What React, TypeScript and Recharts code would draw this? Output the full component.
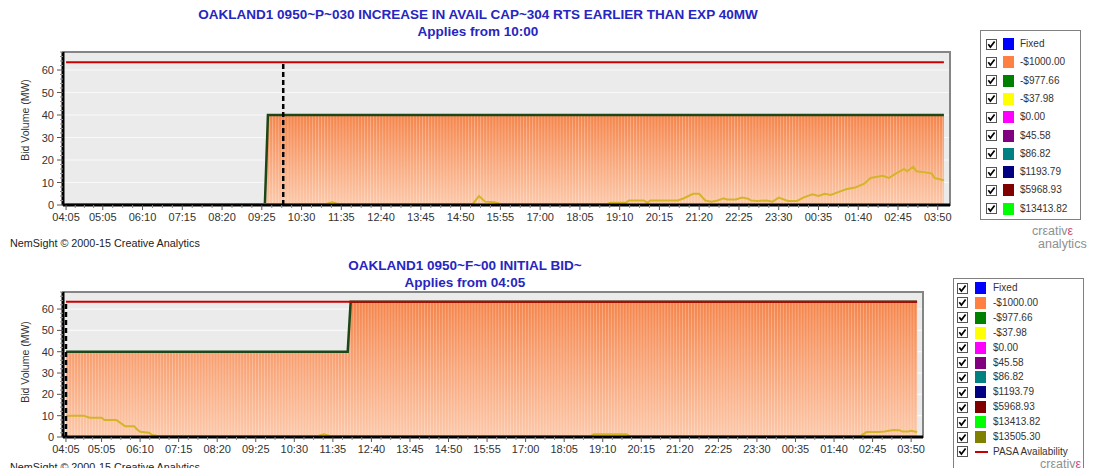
import React from 'react';
import { ComposedChart, Area, Line, XAxis, YAxis, CartesianGrid, ReferenceLine, ReferenceArea } from 'recharts';

// 5-minute trading intervals, 04:05 .. 04:00 next day
const tickLabels = ['04:05', '05:05', '06:10', '07:15', '08:20', '09:25', '10:30', '11:35', '12:40', '13:45', '14:50', '15:55', '17:00', '18:05', '19:10', '20:15', '21:20', '22:25', '23:30', '00:35', '01:40', '02:45', '03:50'];
const yTicks = [0, 10, 20, 30, 40, 50, 60];
const yMax = 68;
const dayStart = '04:05';
const dayEnd = '04:00';

// top chart
const topTitle = 'OAKLAND1 0950~P~030 INCREASE IN AVAIL CAP~304 RTS EARLIER THAN EXP 40MW';
const topSubtitle = 'Applies from 10:00';
const topAppliesFrom = '10:00';
const topBandTimes = ['04:05', '09:30', '09:35', '04:00'];
const topBand1000 = [0, 0, 40, 40];
const topBand977 = [0, 0, 0, 0];
const topPasa = 63.4;
const topYellow: [string, number][] = [
    ['04:05', 0.5], ['11:10', 0.5], ['11:20', 1.2], ['11:30', 0.5], ['15:10', 0.5], ['15:20', 4], ['15:30', 1.5],
    ['15:45', 1.2], ['15:55', 0.5], ['18:50', 0.5], ['18:55', 1], ['19:20', 1], ['19:25', 2], ['19:50', 2], ['19:55', 1],
    ['20:00', 2], ['20:45', 2], ['20:55', 3], ['21:10', 5], ['21:20', 5], ['21:30', 2], ['21:40', 1.5], ['21:50', 2],
    ['22:00', 3], ['22:05', 2.5], ['22:20', 2.5], ['22:30', 3.3], ['22:40', 2.8], ['22:45', 2], ['22:55', 1.8],
    ['23:10', 2], ['23:20', 1.5], ['23:30', 3.3], ['23:45', 1.8], ['00:00', 1.8], ['00:10', 3.3], ['00:25', 4.8],
    ['00:35', 4], ['00:45', 5], ['00:55', 4.5], ['01:05', 5.5], ['01:20', 7], ['01:35', 7.8], ['01:50', 9.5],
    ['02:00', 12], ['02:20', 13], ['02:30', 12], ['02:40', 13.7], ['02:55', 16], ['03:00', 15], ['03:10', 17],
    ['03:15', 15], ['03:30', 14.5], ['03:40', 14], ['03:45', 12], ['04:00', 11],
];

// bottom chart
const botTitle = 'OAKLAND1 0950~F~00 INITIAL BID~';
const botSubtitle = 'Applies from 04:05';
const botAppliesFrom = '04:05';
const botBandTimes = ['04:05', '12:00', '12:05', '04:00'];
const botBand1000 = [40, 40, 63.4, 63.4];
const botBand977 = [0, 0, 0, 0];
const botPasa = 63.4;
const botYellow: [string, number][] = [
    ['04:05', 10], ['04:35', 10], ['04:45', 9], ['05:05', 9], ['05:10', 8], ['05:30', 8], ['05:35', 7], ['05:45', 5],
    ['06:00', 5], ['06:05', 3.5], ['06:10', 2.5], ['06:25', 2], ['06:30', 1], ['06:40', 0.5], ['11:10', 0.5],
    ['11:20', 1.3], ['11:30', 0.5], ['18:50', 0.5], ['18:55', 1.3], ['19:50', 1.3], ['19:55', 0.5], ['02:25', 0.5],
    ['02:35', 2.3], ['02:55', 2.3], ['03:05', 2.6], ['03:20', 3.3], ['03:30', 3.2], ['03:35', 2.6], ['03:45', 2.6],
    ['03:50', 2.9], ['04:00', 2.3],
];

const legendTop: [string, string][] = [
    ['Fixed', '#0000ff'], ['-$1000.00', '#ff8040'], ['-$977.66', '#008000'], ['-$37.98', '#ffff00'],
    ['$0.00', '#ff00ff'], ['$45.58', '#800080'], ['$86.82', '#008080'], ['$1193.79', '#000080'],
    ['$5968.93', '#800000'], ['$13413.82', '#00ff00'],
];
const legendBottomExtra: [string, string][] = [['$13505.30', '#808000']];

const footer = 'NemSight \u00a9 2000-15 Creative Analytics';

const slot = (t: string) => {
    const [h, m] = t.split(':').map(Number);
    const [h0, m0] = dayStart.split(':').map(Number);
    return ((h * 60 + m - (h0 * 60 + m0) + 1440) % 1440) / 5;
};

const majorX = tickLabels.map(slot);
const allX: number[] = [];
for (let k = 0; k < majorX.length; k++) {
    allX.push(majorX[k]);
    if (k < majorX.length - 1) {
        for (let q = 1; q < 4; q++) allX.push(majorX[k] + ((majorX[k + 1] - majorX[k]) * q) / 4);
    }
}
const allY: number[] = [];
for (let v = 0; v <= yMax; v += 2) allY.push(v);
const xDomain = [-1, 289];

function XTick({ x, y, payload }: any) {
    const i = majorX.indexOf(payload.value);
    const major = i >= 0;
    return (
        <g>
            <line x1={x} x2={x} y1={y} y2={y + (major ? 5 : 3)} stroke={major ? '#555' : '#888'} />
            {major && (
                <text x={x} y={y + 16} textAnchor="middle" fill="#333" fontSize={11}>{tickLabels[i]}</text>
            )}
        </g>
    );
}

function YTick({ x, y, payload }: any) {
    const major = payload.value % 10 === 0;
    return (
        <g>
            <line x1={x} x2={x - (major ? 6 : 3)} y1={y} y2={y} stroke={major ? '#555' : '#888'} />
            {major && (
                <text x={x - 9} y={y + 4} textAnchor="end" fill="#333" fontSize={11}>{payload.value}</text>
            )}
        </g>
    );
}

function BidChart({ id, w, h, margin, times, band1000, band977, yellow, pasa, applies }: any) {
    const table = times.map((t: string, i: number) => ({ x: slot(t), b1000: band1000[i], b977: band977[i] }));
    const pasaData = [{ x: slot(dayStart), v: pasa }, { x: slot(dayEnd), v: pasa }];
    const yellowData = yellow.map(([t, v]: [string, number]) => ({ x: slot(t), v }));
    const plotW = w - margin.left - margin.right - 40;
    const period = plotW / (xDomain[1] - xDomain[0]);
    const ax = slot(applies);
    return (
        <ComposedChart width={w} height={h} data={table} margin={margin}>
            <defs>
                <linearGradient id={`or-${id}`} x1="0" y1="0" x2="0" y2="1">
                    <stop offset="0%" stopColor="#f5844a" />
                    <stop offset="100%" stopColor="#fcc8a9" />
                </linearGradient>
                <pattern id={`st-${id}`} patternUnits="userSpaceOnUse" width={period} height={8}>
                    <rect x={0} y={0} width={0.9} height={8} fill="#ffffff" fillOpacity={0.3} />
                </pattern>
            </defs>
            <CartesianGrid vertical={false} fill="#ebebeb" stroke="#f9f9f9" strokeWidth={1.2} horizontalValues={yTicks} />
            <ReferenceArea x1={xDomain[0]} x2={xDomain[1]} y1={0} y2={yMax} fill="none" stroke="#858585" strokeWidth={2} ifOverflow="visible" />
            <Area dataKey="b1000" stackId="s" type="linear" fill={`url(#or-${id})`} fillOpacity={1} stroke="none" isAnimationActive={false} />
            <Area dataKey="b1000" type="linear" fill={`url(#st-${id})`} fillOpacity={1} stroke="none" isAnimationActive={false} />
            <Line data={pasaData} dataKey="v" type="linear" stroke="#c80000" strokeWidth={2} dot={false} activeDot={false} isAnimationActive={false} />
            <Area dataKey="b977" stackId="s" type="linear" fill="#008000" stroke="#1d4716" strokeWidth={2.5} isAnimationActive={false} />
            <Line data={yellowData} dataKey="v" type="linear" stroke="#d4b52a" strokeWidth={2} dot={false} activeDot={false} isAnimationActive={false} />
            <ReferenceLine segment={[{ x: ax, y: 0 }, { x: ax, y: pasa }]} stroke="#000" strokeWidth={2.5} strokeDasharray="5 3" />
            <XAxis type="number" dataKey="x" domain={xDomain} allowDataOverflow ticks={allX} interval={0} height={20}
                tickSize={0} tickMargin={0} tick={<XTick />} tickLine={false} axisLine={{ stroke: '#000', strokeWidth: 3 }} />
            <YAxis type="number" domain={[0, yMax]} allowDataOverflow ticks={allY} interval={0} width={40}
                tickSize={0} tickMargin={0} tick={<YTick />} tickLine={false} axisLine={{ stroke: '#000', strokeWidth: 3 }} />
        </ComposedChart>
    );
}

function CheckBox() {
    return (
        <svg width={11} height={11} style={{ display: 'block' }}>
            <rect x={0.5} y={0.5} width={10} height={10} fill="#fff" stroke="#555" />
            <polyline points="2.3,5.2 4.4,8 8.6,2.6" fill="none" stroke="#000" strokeWidth={1.7} />
        </svg>
    );
}

function LegendBox({ left, top, width, height, first, rowH, items, pasa, cbX, swX, txX, openBottom }: any) {
    const rows = items.map(([name, color]: [string, string]) => ({ name, color, line: false }));
    if (pasa) rows.push({ name: 'PASA Availability', color: '#c80000', line: true });
    return (
        <div style={{
            position: 'absolute', left, top, width, height, boxSizing: 'border-box',
            border: '1.5px solid #808080', borderBottom: openBottom ? 'none' : '1.5px solid #808080', background: '#fff',
        }}>
            {rows.map((r: any, i: number) => (
                <div key={r.name} style={{ position: 'absolute', left: 0, top: first + i * rowH - 7, height: 14, width: '100%' }}>
                    <div style={{ position: 'absolute', left: cbX, top: 1.5 }}><CheckBox /></div>
                    {r.line
                        ? <div style={{ position: 'absolute', left: swX, top: 6, width: 13, height: 2, background: r.color }} />
                        : <div style={{ position: 'absolute', left: swX, top: 1, width: 11, height: 12, background: r.color }} />}
                    <div style={{ position: 'absolute', left: txX, top: 0, lineHeight: '14px', fontSize: 10, color: '#333', whiteSpace: 'nowrap' }}>{r.name}</div>
                </div>
            ))}
        </div>
    );
}

function Logo({ left, top }: { left: number; top: number }) {
    return (
        <div style={{ position: 'absolute', left, top, color: '#8f8f8f', fontSize: 12.5, lineHeight: '13px', whiteSpace: 'nowrap' }}>
            <div>cr&epsilon;ativ<span style={{ color: '#d0457b' }}>&epsilon;</span></div>
            <div style={{ marginLeft: 6 }}>analytics</div>
        </div>
    );
}

function Title({ cx, top, text, sub }: { cx: number; top: number; text: string; sub: string }) {
    const s = { position: 'absolute' as const, left: cx - 400, width: 800, textAlign: 'center' as const, color: '#2626c0', fontWeight: 'bold', fontSize: 13.5, lineHeight: '16px' };
    return (
        <>
            <div style={{ ...s, top }}>{text}</div>
            <div style={{ ...s, top: top + 17 }}>{sub}</div>
        </>
    );
}

function AxisTitle({ cx, cy }: { cx: number; cy: number }) {
    return (
        <div style={{ position: 'absolute', left: cx - 60, top: cy - 7, width: 120, lineHeight: '14px', textAlign: 'center', fontSize: 10.5, color: '#333', transform: 'rotate(-90deg)' }}>
            Bid Volume (MW)
        </div>
    );
}

export default function App() {
    return (
        <div style={{ position: 'relative', width: 1096, height: 476, margin: -8, overflow: 'hidden', background: '#fff', fontFamily: '"Liberation Sans", Arial, sans-serif' }}>
            <Title cx={478} top={7} text={topTitle} sub={topSubtitle} />
            <div style={{ position: 'absolute', left: 0, top: 0 }}>
                <BidChart id="top" w={960} h={228} margin={{ top: 52, right: 10, bottom: 3, left: 23 }}
                    times={topBandTimes} band1000={topBand1000} band977={topBand977} yellow={topYellow} pasa={topPasa} applies={topAppliesFrom} />
            </div>
            <AxisTitle cx={25} cy={120} />
            <div style={{ position: 'absolute', left: 10, top: 236, fontSize: 10.8, lineHeight: '14px', color: '#222' }}>{footer}</div>
            <LegendBox left={980} top={30} width={101} height={190} first={13} rowH={18.3} items={legendTop} pasa={false} cbX={5} swX={22} txX={39} />
            <Logo left={1032} top={225} />

            <Title cx={465} top={258} text={botTitle} sub={botSubtitle} />
            <div style={{ position: 'absolute', left: 0, top: 250 }}>
                <BidChart id="bot" w={933} h={210} margin={{ top: 42, right: 10, bottom: 3, left: 23 }}
                    times={botBandTimes} band1000={botBand1000} band977={botBand977} yellow={botYellow} pasa={botPasa} applies={botAppliesFrom} />
            </div>
            <AxisTitle cx={25} cy={362} />
            <div style={{ position: 'absolute', left: 10, top: 460, fontSize: 10.8, lineHeight: '14px', color: '#222' }}>{footer}</div>
            <LegendBox left={953} top={278} width={131} height={190} first={9} rowH={14.9} items={[...legendTop, ...legendBottomExtra]} pasa cbX={3} swX={21} txX={39} openBottom />
            <Logo left={1040} top={458} />
        </div>
    );
}
